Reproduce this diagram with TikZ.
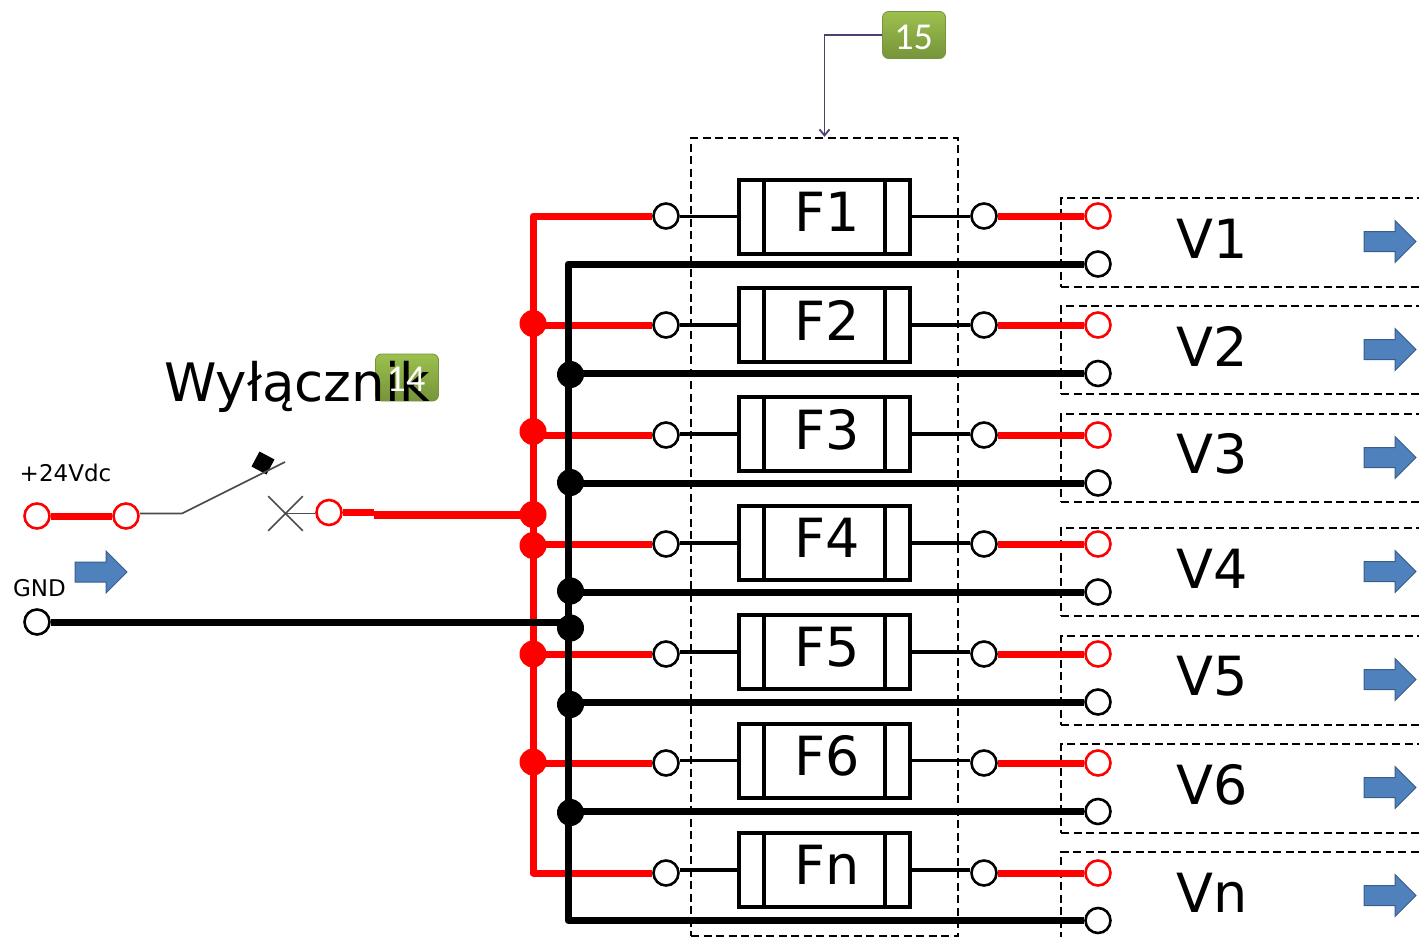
\documentclass[tikz,border=0pt]{standalone}
\usepackage{fontspec}
\setmainfont{DejaVu Sans}
\newfontfamily\badgefont{Carlito}
\usetikzlibrary{arrows.meta,calc,shapes.arrows,shapes.misc}
\definecolor{arrowblue}{HTML}{4F81BD}
\definecolor{arrowedge}{HTML}{385D8A}
\definecolor{badgetop}{HTML}{9CC04E}
\definecolor{badgebot}{HTML}{76943A}
\definecolor{calloutline}{HTML}{4F3F70}
\tikzset{
	pin/.style={circle, draw=black, fill=white, line width=2.6pt, minimum size=25pt, inner sep=0pt},
	redpin/.style={pin, draw=red},
	reddot/.style={circle, fill=red, minimum size=27pt, inner sep=0pt},
	blackdot/.style={circle, fill=black, minimum size=27pt, inner sep=0pt},
	redwire/.style={draw=red, line width=7pt, line join=round},
	blackwire/.style={draw=black, line width=7pt, line join=round},
	lead/.style={draw=black, line width=3.5pt},
	swline/.style={draw=black!70, line width=1.6pt},
	fuse/.style={draw, rectangle, line width=4pt, minimum width=171pt, minimum height=74pt, text depth=10pt,
		font=\fontsize{54pt}{54pt}\selectfont, execute at begin node={\hspace*{5pt}},
		path picture={
			\draw[line width=4pt] ([xshift=25pt]path picture bounding box.north west) -- ([xshift=25pt]path picture bounding box.south west);
			\draw[line width=4pt] ([xshift=-25pt]path picture bounding box.north east) -- ([xshift=-25pt]path picture bounding box.south east);
		}},
	dashbox/.style={draw, rectangle, line width=2.4pt, dash pattern=on 8pt off 4.5pt, inner sep=0pt},
	outbox/.style={dashbox, anchor=north west, minimum width=400pt},
	vlabel/.style={font=\fontsize{54pt}{54pt}\selectfont, inner sep=0pt},
	flowarrow/.style={single arrow, draw=arrowedge, fill=arrowblue, line width=1pt, inner sep=0pt,
		text height=19pt, text depth=0pt, minimum height=52pt, single arrow head extend=11pt, single arrow tip angle=90},
	badge/.style={rectangle, rounded corners=6pt, draw=badgebot, line width=0.8pt, top color=badgetop, bottom color=badgebot, minimum width=63pt, minimum height=47pt, inner sep=0pt},
	badgetext/.style={text=white, inner sep=0pt, font=\badgefont\fontsize{38pt}{38pt}\selectfont},
	smalllabel/.style={font=\fontsize{23pt}{23pt}\selectfont, inner sep=0pt}
}
\begin{document}
\begin{tikzpicture}[x=1pt,y=-1pt]
	\useasboundingbox (0,0) rectangle (1419,937);
	% dashed boxes
	\node[dashbox, minimum width=267pt, minimum height=798pt] (Panel) at (824.5,537) {};
	\node[outbox, minimum height=89pt] (Out1) at (1060,197) {};
	\node[outbox, minimum height=88pt] (Out2) at (1060,305) {};
	\node[outbox, minimum height=88pt] (Out3) at (1060,413) {};
	\node[outbox, minimum height=88pt] (Out4) at (1060,527) {};
	\node[outbox, minimum height=89pt] (Out5) at (1060,635) {};
	\node[outbox, minimum height=89pt] (Out6) at (1060,743) {};
	\node[outbox, minimum height=120pt] (Out7) at (1060,851) {};
	% input side
	\node[redpin] (Plus) at (37,516) {};
	\node[redpin] (SwIn) at (126,516) {};
	\node[redpin] (SwOut) at (329,512.5) {};
	\node[pin] (Gnd) at (37,622) {};
	\node[smalllabel] (PlusText) at (65.5,473) {+24Vdc};
	\node[smalllabel] (GndText) at (39.5,588) {GND};
	\node[flowarrow] (InArrow) at (96,572) {};
	\coordinate (Pivot) at (182,513.5);
	\coordinate (SwTip) at (285,462);
	\coordinate (Thick0) at (374,515);
	\node[rectangle, fill=black, minimum size=17pt, inner sep=0pt, rotate=-28] (SwCap) at (263,463) {};
	\node[cross out, swline, minimum size=33pt, inner sep=0pt] (Contact) at (285.5,513.5) {};
	\node[badge] (Badge14) at (407,377.5) {};
	\node[anchor=base west, inner sep=0pt, font=\fontsize{53pt}{53pt}\selectfont] (Title) at (164,401) {Wyłącznik};
	\node[badgetext] (Num14) at (406,379) {14};
	% fuse inputs
	\node[pin] (L1) at (666,216) {};
	\node[pin] (L2) at (666,325) {};
	\node[pin] (L3) at (666,435) {};
	\node[pin] (L4) at (666,544) {};
	\node[pin] (L5) at (666,654) {};
	\node[pin] (L6) at (666,763) {};
	\node[pin] (L7) at (666,873) {};
	% fuses
	\node[fuse] (Fuse1) at (824.5,216.5) {F1};
	\node[fuse] (Fuse2) at (824.5,325) {F2};
	\node[fuse] (Fuse3) at (824.5,434) {F3};
	\node[fuse] (Fuse4) at (824.5,543) {F4};
	\node[fuse] (Fuse5) at (824.5,652) {F5};
	\node[fuse] (Fuse6) at (824.5,760.5) {F6};
	\node[fuse] (Fuse7) at (824.5,870) {Fn};
	% fuse outputs
	\node[pin] (R1) at (984,216) {};
	\node[pin] (R2) at (984,325) {};
	\node[pin] (R3) at (984,435) {};
	\node[pin] (R4) at (984,544) {};
	\node[pin] (R5) at (984,654) {};
	\node[pin] (R6) at (984,763) {};
	\node[pin] (R7) at (984,873) {};
	% output terminals
	\node[redpin] (VP1) at (1098,216) {};
	\node[redpin] (VP2) at (1098,325) {};
	\node[redpin] (VP3) at (1098,435) {};
	\node[redpin] (VP4) at (1098,544) {};
	\node[redpin] (VP5) at (1098,654) {};
	\node[redpin] (VP6) at (1098,763) {};
	\node[redpin] (VP7) at (1098,873) {};
	\node[pin] (VM1) at (1098,264) {};
	\node[pin] (VM2) at (1098,373.5) {};
	\node[pin] (VM3) at (1098,483) {};
	\node[pin] (VM4) at (1098,592) {};
	\node[pin] (VM5) at (1098,702) {};
	\node[pin] (VM6) at (1098,811.5) {};
	\node[pin] (VM7) at (1098,920.5) {};
	% output labels and arrows
	\node[vlabel] (V1) at (1212,238.5) {V1};
	\node[vlabel] (V2) at (1212,346.5) {V2};
	\node[vlabel] (V3) at (1212,454) {V3};
	\node[vlabel] (V4) at (1212,568.5) {V4};
	\node[vlabel] (V5) at (1212,676.5) {V5};
	\node[vlabel] (V6) at (1212,784.5) {V6};
	\node[vlabel] (V7) at (1212,892.5) {Vn};
	\node[flowarrow] (Arrow1) at (1385,241.5) {};
	\node[flowarrow] (Arrow2) at (1385,349.5) {};
	\node[flowarrow] (Arrow3) at (1385,457.5) {};
	\node[flowarrow] (Arrow4) at (1385,571.5) {};
	\node[flowarrow] (Arrow5) at (1385,679.5) {};
	\node[flowarrow] (Arrow6) at (1385,787.5) {};
	\node[flowarrow] (Arrow7) at (1385,895.5) {};
	% bus junctions
	\coordinate (RedTop) at (533,216);
	\coordinate (RedEnd) at (533,873);
	\coordinate (BlackTop) at (568,264);
	\coordinate (BlackEnd) at (568,920.5);
	\node[reddot] (RD2) at (533,323.5) {};
	\node[reddot] (RD3) at (533,431.5) {};
	\node[reddot] (RDin) at (533,514.5) {};
	\node[reddot] (RD4) at (533,545.5) {};
	\node[reddot] (RD5) at (533,654) {};
	\node[reddot] (RD6) at (533,762) {};
	\node[blackdot] (KD2) at (570.5,374.5) {};
	\node[blackdot] (KD3) at (570.5,482.5) {};
	\node[blackdot] (KD4) at (570.5,591) {};
	\node[blackdot] (KDin) at (570.5,628) {};
	\node[blackdot] (KD5) at (570.5,704.5) {};
	\node[blackdot] (KD6) at (570.5,812.5) {};
	% buses
	\draw[redwire] (L1) -- (RedTop) -- (RedEnd) -- (L7);
	\draw[redwire] (L2) -- (L2 -| RD2);
	\draw[redwire] (L3) -- (L3 -| RD3);
	\draw[redwire] (L4) -- (L4 -| RD4);
	\draw[redwire] (L5) -- (L5 -| RD5);
	\draw[redwire] (L6) -- (L6 -| RD6);
	\draw[blackwire] (VM1) -- (BlackTop) -- (BlackEnd) -- (VM7);
	\draw[blackwire] (VM2) -- (VM2 -| KD2);
	\draw[blackwire] (VM3) -- (VM3 -| KD3);
	\draw[blackwire] (VM4) -- (VM4 -| KD4);
	\draw[blackwire] (VM5) -- (VM5 -| KD5);
	\draw[blackwire] (VM6) -- (VM6 -| KD6);
	\draw[blackwire] (Gnd) -- (Gnd -| KDin);
	% switch
	\draw[redwire] (Plus) -- (SwIn);
	\draw[swline] (SwIn.east |- Pivot) -- (Pivot) -- (SwTip);
	\draw[swline] (Contact.center) -- (Contact.center -| SwOut.west);
	\draw[redwire] (SwOut) -- (SwOut -| Thick0);
	\draw[draw=red, line width=8pt] (Thick0) -- (Thick0 -| RDin);
	% fuse leads
	\draw[lead] (Fuse1.west) -- (Fuse1.west -| L1.east);
	\draw[lead] (Fuse2.west) -- (Fuse2.west -| L2.east);
	\draw[lead] (Fuse3.west) -- (Fuse3.west -| L3.east);
	\draw[lead] (Fuse4.west) -- (Fuse4.west -| L4.east);
	\draw[lead] (Fuse5.west) -- (Fuse5.west -| L5.east);
	\draw[lead] (Fuse6.west) -- (Fuse6.west -| L6.east);
	\draw[lead] (Fuse7.west) -- (Fuse7.west -| L7.east);
	\draw[lead] (Fuse1.east) -- (Fuse1.east -| R1.west);
	\draw[lead] (Fuse2.east) -- (Fuse2.east -| R2.west);
	\draw[lead] (Fuse3.east) -- (Fuse3.east -| R3.west);
	\draw[lead] (Fuse4.east) -- (Fuse4.east -| R4.west);
	\draw[lead] (Fuse5.east) -- (Fuse5.east -| R5.west);
	\draw[lead] (Fuse6.east) -- (Fuse6.east -| R6.west);
	\draw[lead] (Fuse7.east) -- (Fuse7.east -| R7.west);
	% outputs
	\draw[redwire] (R1) -- (VP1);
	\draw[redwire] (R2) -- (VP2);
	\draw[redwire] (R3) -- (VP3);
	\draw[redwire] (R4) -- (VP4);
	\draw[redwire] (R5) -- (VP5);
	\draw[redwire] (R6) -- (VP6);
	\draw[redwire] (R7) -- (VP7);
	% callout
	\node[badge] (Badge15) at (914,35) {};
	\node[badgetext] (Num15) at (913.5,37) {15};
	\draw[calloutline, line width=1.8pt, -{Straight Barb[length=6pt,width=10pt]}] (Badge15.west) -| (Panel.north);
\end{tikzpicture}
\end{document}
